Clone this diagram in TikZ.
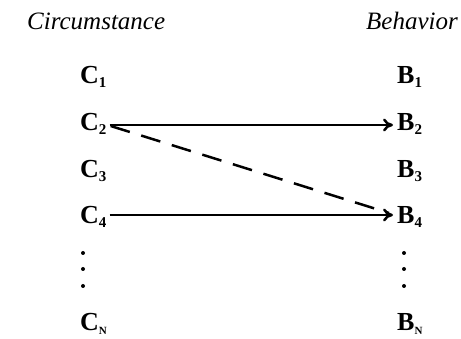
\documentclass[tikz,border=0pt]{standalone}
\usepackage{fontspec}
\setmainfont{Liberation Serif}
\usetikzlibrary{arrows.meta}
\newcommand{\lbl}[2]{\fontsize{26}{26}\selectfont\bfseries #1\raisebox{-4pt}{\fontsize{15}{15}\selectfont #2}}
\begin{document}
\begin{tikzpicture}[x=1pt,y=1pt,
  hdr/.style={font=\fontsize{25}{25}\selectfont\itshape, inner sep=0pt},
  item/.style={inner sep=0pt, anchor=base west},
  link/.style={line width=2.5pt, -{To[length=10pt,width=13pt]}, shorten >=4pt, shorten <=3pt},
  dlink/.style={line width=2.5pt, dash pattern=on 20pt off 12pt}]
\useasboundingbox (0,0) rectangle (461,-339);
\node[hdr, anchor=base west] (hc) at (27,-30) {Circumstance};
\node[hdr, anchor=base east] (hb) at (458,-30) {Behavior};
\foreach \i/\y in {1/-84,2/-131,3/-178,4/-224}{
  \node[item] (C\i) at (80,\y) {\lbl{C}{\i}};
  \node[item] (B\i) at (397,\y) {\lbl{B}{\i}};
}
\node[item] (CN) at (80,-331) {\lbl{C}{\fontsize{11}{11}\selectfont N}};
\node[item] (BN) at (397,-331) {\lbl{B}{\fontsize{11}{11}\selectfont N}};
\foreach \y/\n in {-253/1,-269/2,-286/3}{
  \fill (83,\y) circle (2pt) coordinate (cd\n);
  \fill (404,\y) circle (2pt) coordinate (bd\n);
}
\draw[link] (C2.east |- 0,-125) -- (B2.west |- 0,-125);
\draw[link] (C4.east |- 0,-215) -- (B4.west |- 0,-215);
\coordinate (ds) at ([xshift=4pt,yshift=2pt]C2.east |- 0,-128);
\coordinate (de) at ([xshift=-8pt]B4.west |- 0,-213);
\draw[dlink] (ds) -- (de);
\end{tikzpicture}
\end{document}
